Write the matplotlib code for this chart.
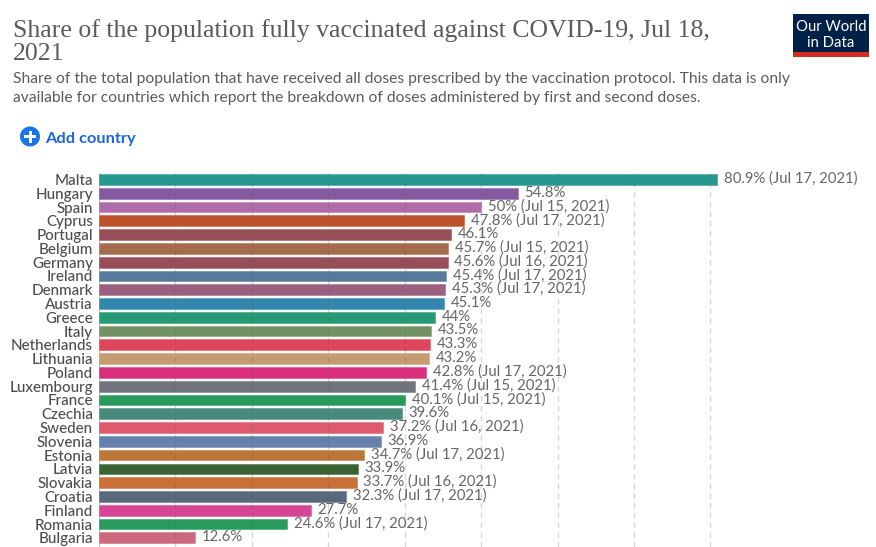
import matplotlib
matplotlib.use("Agg")
import matplotlib.pyplot as plt
from matplotlib.colors import to_rgba
from matplotlib.patches import Rectangle, Circle

plt.rcParams["font.family"] = ["Lato", "DejaVu Sans"]

W, H = 876, 547

countries = ["Malta", "Hungary", "Spain", "Cyprus", "Portugal", "Belgium", "Germany", "Ireland", "Denmark",
             "Austria", "Greece", "Italy", "Netherlands", "Lithuania", "Poland", "Luxembourg", "France",
             "Czechia", "Sweden", "Slovenia", "Estonia", "Latvia", "Slovakia", "Croatia", "Finland",
             "Romania", "Bulgaria"]
values = [80.9, 54.8, 50, 47.8, 46.1, 45.7, 45.6, 45.4, 45.3, 45.1, 44, 43.5, 43.3, 43.2, 42.8, 41.4,
          40.1, 39.6, 37.2, 36.9, 34.7, 33.9, 33.7, 32.3, 27.7, 24.6, 12.6]
dates = ["Jul 17, 2021", "", "Jul 15, 2021", "Jul 17, 2021", "", "Jul 15, 2021", "Jul 16, 2021",
         "Jul 17, 2021", "Jul 17, 2021", "", "", "", "", "", "Jul 17, 2021", "Jul 15, 2021", "Jul 15, 2021",
         "", "Jul 16, 2021", "", "Jul 17, 2021", "", "Jul 16, 2021", "Jul 17, 2021", "", "Jul 17, 2021", ""]
colors = ["#26988f", "#835a9f", "#b06ca8", "#bd532c", "#964f58", "#a46b4c", "#964f58", "#577a9b", "#9b5f80",
          "#3387ae", "#269a75", "#729361", "#de465c", "#c49c70", "#da2f7c", "#71747c", "#289a5c",
          "#48897c", "#de5a6c", "#6681ab", "#bc7637", "#3b6233", "#c96f38", "#5a687c", "#d64495",
          "#289a5c", "#cb687c"]
grid_ticks = [10, 20, 30, 40, 50, 60, 70, 80]

fig = plt.figure(figsize=(W / 100, H / 100), dpi=100, facecolor="white")


def fx(px):
    return px / W


def fy(px):
    return 1 - px / H


# chart area: x=0 sits at 99px, 80 sits at 711px, rows 13.78px apart from 179.5px
left, right = 98.9, 876
top, bottom = 173, 547
row = 13.78
first = 179.5
ax = fig.add_axes([fx(left), fy(bottom), fx(right - left), (bottom - top) / H])
ax.set_xlim(0, (right - left) / 7.645)
ax.set_ylim((bottom - first) / row, -(first - top) / row)
ax.patch.set_alpha(0)
for s in ax.spines.values():
    s.set_visible(False)
ax.set_xticks([])
ax.set_yticks(range(len(countries)))
ax.set_yticklabels(countries, fontsize=10.9, color="#4e4e4e", fontweight="medium")
ax.tick_params(axis="y", length=0, pad=4.2)

ax.barh(range(len(countries)), values, height=0.78, color=colors,
        edgecolor=[to_rgba(c, 0.45) for c in colors], linewidth=0.8, zorder=2)
for t in grid_ticks:
    ax.axvline(t, color="#5a5a5a", alpha=0.24, lw=1, ls=(0, (4, 3)), zorder=3)
ax.axvline(0, color="#c8c8c8", lw=1, zorder=1)

for i, (v, d) in enumerate(zip(values, dates)):
    label = f"{v:g}%"
    if d:
        label += f" ({d})"
    ax.annotate(label, (v, i), xytext=(4.8, 0.5), textcoords="offset points", va="center", ha="left",
                fontsize=10.75, color="#666666", zorder=4)

# header
fig.text(fx(13), fy(37), "Share of the population fully vaccinated against COVID-19, Jul 18,",
         family="Liberation Serif", fontsize=18.5, color="#5b5b5b")
fig.text(fx(13), fy(60), "2021", family="Liberation Serif", fontsize=18.5, color="#5b5b5b")
fig.text(fx(13), fy(83), "Share of the total population that have received all doses prescribed by the "
         "vaccination protocol. This data is only", fontsize=11.22, color="#5b5b5b")
fig.text(fx(13), fy(102), "available for countries which report the breakdown of doses administered by "
         "first and second doses.", fontsize=11.22, color="#5b5b5b")

# add country button
bg = fig.add_axes([0, 0, 1, 1], zorder=-1)
bg.set_xlim(0, W)
bg.set_ylim(H, 0)
bg.axis("off")
bg.add_patch(Circle((30, 136.5), 10, color="#1a73e8", lw=0))
bg.add_patch(Rectangle((24, 135), 12, 3, color="white", lw=0))
bg.add_patch(Rectangle((28.5, 130.5), 3, 12, color="white", lw=0))
fig.text(fx(45), fy(143), "Add country", fontsize=11.8, color="#1a66e0", fontweight="bold")

# logo
bg.add_patch(Rectangle((793, 14), 76, 43, color="#002147", lw=0))
bg.add_patch(Rectangle((793, 52), 76, 5, color="#d42b21", lw=0))
fig.text(fx(831), fy(31), "Our World", fontsize=10.7, color="white", ha="center", va="baseline")
fig.text(fx(831), fy(47), "in Data", fontsize=10.7, color="white", ha="center", va="baseline")

fig.savefig("out.png", dpi=100)
